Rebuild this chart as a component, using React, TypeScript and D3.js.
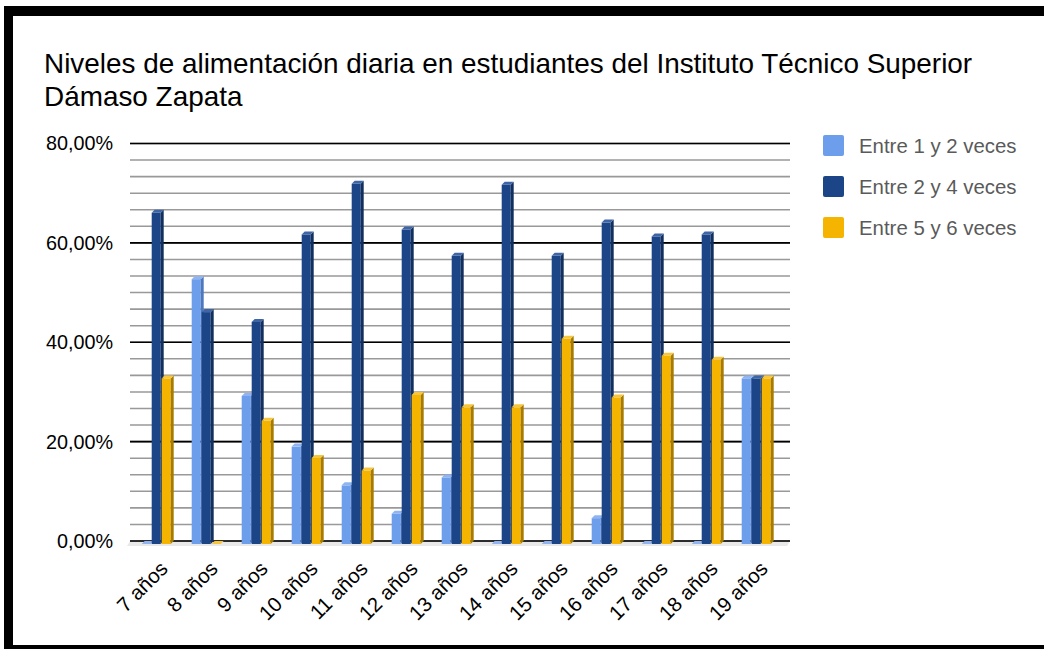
import React from "react";
import * as d3 from "d3";

const categories = ["7 años","8 años","9 años","10 años","11 años","12 años","13 años","14 años","15 años","16 años","17 años","18 años","19 años"];
const seriesNames = ["Entre 1 y 2 veces","Entre 2 y 4 veces","Entre 5 y 6 veces"];
const entre1y2 = [0, 53.3, 29.8, 19.6, 11.8, 6.1, 13.4, 0, 0, 5.2, 0, 0, 33.33];
const entre2y4 = [66.67, 46.67, 44.7, 62.3, 72.5, 63.3, 58, 72.3, 58, 64.7, 61.9, 62.3, 33.33];
const entre5y6 = [33.33, 0, 24.8, 17.3, 14.8, 30, 27.5, 27.5, 41.3, 29.5, 37.9, 37.1, 33.33];
const majorTicks = [0, 20, 40, 60, 80];
const tickLabels = ["0,00%", "20,00%", "40,00%", "60,00%", "80,00%"];
const titleLines = ["Niveles de alimentación diaria en estudiantes del Instituto Técnico Superior", "Dámaso Zapata"];

const palettes = [
  { front: "#6d9eeb", side: "#4d78bd", top: "#8fb4f1" },
  { front: "#1c4587", side: "#122f5e", top: "#3e65a5" },
  { front: "#f4b400", side: "#a87b00", top: "#f8c63d" },
];

export default function App() {
  const W = 1044, H = 649;
  const font = "'Liberation Sans', Arial, sans-serif";
  const y = d3.scaleLinear().domain([0, 80]).range([541, 143.5]);
  const x0 = d3.scaleBand<string>().domain(categories).range([131, 781]);
  const x1 = d3.scaleBand<string>().domain(seriesNames).range([0, 30]);
  const minorTicks = d3.range(0, 80.001, 80 / 24);
  const data = [entre1y2, entre2y4, entre5y6];
  const bw = 9, dx = 3, dy = 3;
  const y0 = y(0);

  const bars: React.ReactNode[] = [];
  categories.forEach((c, i) => {
    seriesNames.forEach((s, j) => {
      const v = data[j][i];
      const x = (x0(c) as number) + 10.7 + (x1(s) as number);
      const yv = y(v);
      const p = palettes[j];
      const ft = yv + dy, fb = y0 + dy;
      bars.push(
        <g key={`${i}-${j}`}>
          {v > 0 && <rect x={x} y={ft} width={bw} height={fb - ft} fill={p.front} />}
          {v > 0 && (
            <polygon points={`${x + bw},${ft} ${x + bw + dx},${yv} ${x + bw + dx},${y0} ${x + bw},${fb}`} fill={p.side} />
          )}
          <polygon points={`${x},${ft} ${x + bw},${ft} ${x + bw + dx},${yv} ${x + dx},${yv}`} fill={p.top} />
        </g>
      );
    });
  });

  return (
    <div style={{ position: "fixed", left: 0, top: 0 }}>
      <svg width={W} height={H} style={{ display: "block", background: "#fff" }} fontFamily={font}>
        <rect x={0} y={0} width={W} height={H} fill="#fff" />
        {/* border */}
        <rect x={4} y={6} width={W - 4} height={10} fill="#000" />
        <rect x={4} y={6} width={9} height={H - 6} fill="#000" />
        <rect x={4} y={645} width={W - 4} height={4} fill="#000" />

        {titleLines.map((t, k) => (
          <text key={k} x={44} y={73 + k * 33} fontSize={27.9} fill="#000">{t}</text>
        ))}

        {/* floor */}
        <polygon points={`127,${y0 + 5} 787,${y0 + 5} 790,${y0} 130,${y0}`} fill="#e9e9e9" />

        {minorTicks.map((t, k) => (
          <line key={k} x1={130} x2={790} y1={y(t)} y2={y(t)} stroke="#999" strokeWidth={1.6} />
        ))}
        {majorTicks.map((t, k) => (
          <line key={k} x1={130} x2={790} y1={y(t)} y2={y(t)} stroke="#000" strokeWidth={1.6} />
        ))}
        {majorTicks.map((t, k) => (
          <text key={k} x={113} y={y(t)} dy="0.35em" textAnchor="end" fontSize={19.8} fill="#000">{tickLabels[k]}</text>
        ))}

        {bars}

        {categories.map((c, i) => {
          const cx = (x0(c) as number) + x0.bandwidth() / 2;
          const ax = cx + 13, ay = 570;
          return (
            <text key={c} x={ax} y={ay} textAnchor="end" fontSize={20.5} fill="#000" transform={`rotate(-45 ${ax} ${ay})`}>{c}</text>
          );
        })}

        {seriesNames.map((s, j) => (
          <g key={s}>
            <rect x={823} y={135 + j * 41} width={21} height={21} rx={2} fill={palettes[j].front} />
            <text x={859} y={145.5 + j * 41} dy="0.35em" fontSize={20.4} fill="#5a5a5a">{s}</text>
          </g>
        ))}
      </svg>
    </div>
  );
}
